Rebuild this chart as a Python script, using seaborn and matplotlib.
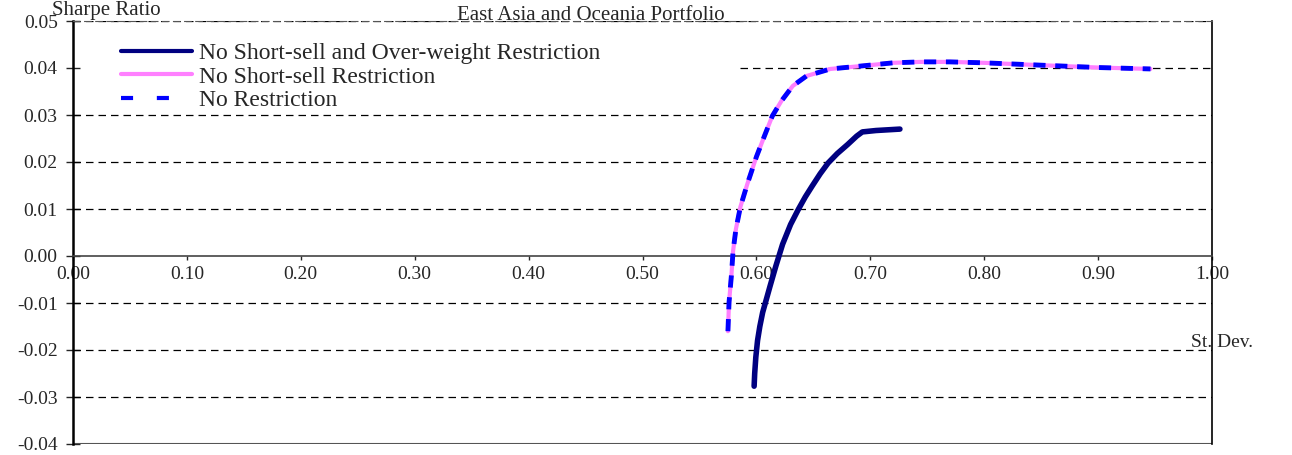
import matplotlib
matplotlib.use('Agg')
import matplotlib.pyplot as plt
import seaborn as sns

# data (St. Dev. vs Sharpe Ratio)
sd_no_short_overweight = [0.598, 0.5985, 0.5995, 0.601, 0.603, 0.6055, 0.609, 0.612, 0.617, 0.623, 0.630, 0.637,
                          0.643, 0.649, 0.656, 0.663, 0.671, 0.680, 0.688, 0.693, 0.705, 0.726]
sr_no_short_overweight = [-0.0277, -0.0250, -0.0215, -0.0180, -0.0150, -0.0120, -0.0090, -0.0064, -0.0022, 0.0025,
                          0.0067, 0.0100, 0.0126, 0.0149, 0.0175, 0.0198, 0.0218, 0.0237, 0.0255, 0.0264, 0.0267, 0.0270]

sd_no_short = [0.575, 0.576, 0.578, 0.5795, 0.582, 0.586, 0.592, 0.600, 0.607, 0.614, 0.622,
               0.632, 0.644, 0.665, 0.691, 0.720, 0.744, 0.770, 0.800, 0.850, 0.900, 0.946]
sr_no_short = [-0.0160, -0.0098, -0.0043, 0.0010, 0.0057, 0.0105, 0.0153, 0.0211, 0.0255, 0.0298, 0.0330,
               0.0362, 0.0383, 0.0398, 0.0404, 0.0411, 0.0413, 0.0413, 0.0411, 0.0406, 0.0401, 0.0398]

sd_no_restriction = sd_no_short
sr_no_restriction = sr_no_short

labels = ['No Short-sell and Over-weight Restriction', 'No Short-sell Restriction', 'No Restriction']
y_ticks = [-0.04, -0.03, -0.02, -0.01, 0.00, 0.01, 0.02, 0.03, 0.04, 0.05]
x_ticks = [0.0, 0.1, 0.2, 0.3, 0.4, 0.5, 0.6, 0.7, 0.8, 0.9, 1.0]

sns.set_style('white')
plt.rcParams['font.family'] = ['Liberation Serif', 'DejaVu Serif']

fig = plt.figure(figsize=(12.92, 4.55), dpi=100)
ax = fig.add_axes([73 / 1292, 1 - 444 / 455, (1212 - 73) / 1292, (444 - 21) / 455])

# x axis crosses at zero (do this first, it resets the ticks)
ax.spines['bottom'].set_position(('data', 0))

# dashed horizontal grid lines (the 0.04 one is hidden behind the legend on the left)
for yv in y_ticks:
    if yv == 0.0 or yv == -0.04:
        continue
    xmin = 0.586 if abs(yv - 0.04) < 1e-9 else 0.0
    ax.axhline(yv, xmin=xmin, xmax=1, color='black', lw=0.9, ls=(0, (6, 4)), zorder=1)

sns.lineplot(x=sd_no_short_overweight, y=sr_no_short_overweight, sort=False, estimator=None,
             color='#000080', lw=4, ax=ax, label=labels[0], zorder=3, solid_joinstyle='round')
sns.lineplot(x=sd_no_short, y=sr_no_short, sort=False, estimator=None,
             color='#FF80FF', lw=3, ax=ax, label=labels[1], zorder=3, solid_joinstyle='round')
sns.lineplot(x=sd_no_restriction, y=sr_no_restriction, sort=False, estimator=None,
             color='#0000FF', lw=3.5, ls=(0, (2.5, 2)), ax=ax, label=labels[2], zorder=4)

ax.set_xlim(0, 1.0)
ax.set_ylim(-0.04, 0.05)
ax.set_yticks(y_ticks)
ax.set_xticks(x_ticks)
ax.set_yticklabels(['%.2f' % v for v in y_ticks], fontsize=14)
ax.set_xticklabels(['%.2f' % v for v in x_ticks], fontsize=14)

ax.spines['bottom'].set_color('#444444')
ax.spines['bottom'].set_linewidth(1.2)
ax.spines['left'].set_color('black')
ax.spines['left'].set_linewidth(1.8)
ax.spines['right'].set_color('black')
ax.spines['right'].set_linewidth(1.2)
ax.spines['top'].set_color('#555555')
ax.spines['top'].set_linestyle((0, (6, 4)))
ax.axhline(-0.04, color='#555555', lw=1.5, zorder=2)

ax.tick_params(axis='y', direction='inout', length=10, width=1, left=True, pad=6)
ax.tick_params(axis='x', direction='out', length=3, width=1, bottom=True, pad=4)

ax.text(-0.0184, 0.0502, 'Sharpe Ratio', fontsize=15, ha='left', va='bottom')
ax.text(0.982, -0.0183, 'St. Dev.', fontsize=14, ha='left', va='center', clip_on=False)
fig.text(0.457, 0.967, 'East Asia and Oceania Portfolio', fontsize=15, ha='center', va='center')

leg = ax.legend(loc='upper left', bbox_to_anchor=(0.034, 0.971), frameon=False, fontsize=17,
                handlelength=3.0, handletextpad=0.3, labelspacing=0.08, borderaxespad=0)
for h in leg.get_lines():
    h.set_linewidth(3)
leg.get_lines()[2].set_linestyle((0, (2.9, 5.7)))

plt.savefig('out.png', dpi=100)
